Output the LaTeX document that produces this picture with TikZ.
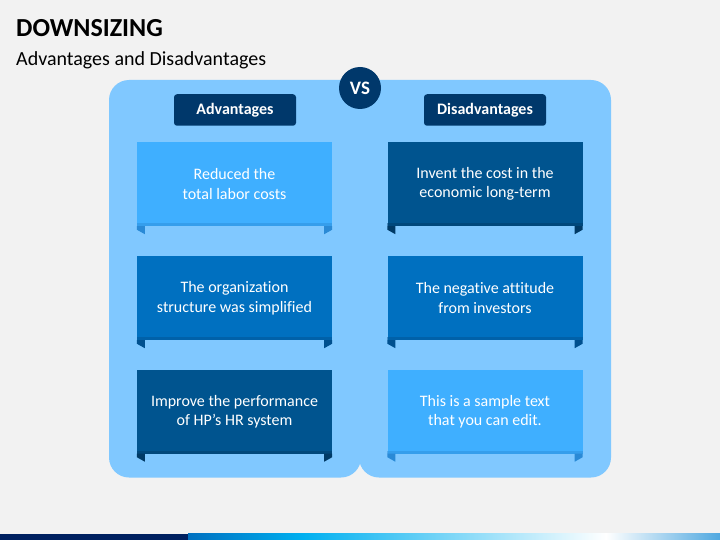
\documentclass[tikz,border=0pt]{standalone}
\usepackage{fontspec}
\setmainfont[Ligatures=NoCommon]{Carlito}
\usetikzlibrary{positioning}
\definecolor{bgc}{HTML}{F2F2F2}
\definecolor{panelc}{HTML}{80C8FF}
\definecolor{navyc}{HTML}{00386B}
\definecolor{lightc}{HTML}{3FAFFF}
\definecolor{lighttail}{HTML}{2A8AD6}
\definecolor{midc}{HTML}{0070C0}
\definecolor{midtail}{HTML}{00508F}
\definecolor{darkc}{HTML}{00548F}
\definecolor{darktail}{HTML}{003A66}
\definecolor{barnavy}{HTML}{002060}
\definecolor{barblue}{HTML}{0070C0}
\definecolor{barcyan}{HTML}{00B0F0}
\definecolor{barend}{HTML}{4FA8E0}
\tikzset{
  panel/.style={fill=panelc, rounded corners=20pt},
  header/.style={fill=navyc, rounded corners=3pt, text=white, font=\fontsize{16}{19}\selectfont\bfseries, minimum width=122pt, minimum height=31.5pt, inner sep=0pt},
  card/.style={text=white, font=\fontsize{16}{19.5}\selectfont, minimum width=195pt, minimum height=84pt, inner sep=0pt, align=center},
}
\newcommand{\cardtails}[2]{%
  \fill[#2] (#1.south west) -- ++(0,3.5) -- ++(8,4.5) -- ++(0,-8) -- cycle;
  \fill[#2] (#1.south east) -- ++(0,3.5) -- ++(-8,4.5) -- ++(0,-8) -- cycle;
  \fill[#2, opacity=0.45] ([yshift=3pt]#1.south west) rectangle (#1.south east);
}
\begin{document}
\begin{tikzpicture}[x=1pt,y=-1pt]
\useasboundingbox (0,0) rectangle (720,540);
\fill[bgc] (0,0) rectangle (720,540);
% title
\node[anchor=base west, inner sep=0pt, font=\fontsize{26}{30}\selectfont\bfseries] (title) at (16,36.5) {DOWNSIZING};
\node[anchor=base west, inner sep=0pt, font=\fontsize{20}{24}\selectfont] (subtitle) at (16,65.5) {Advantages and Disadvantages};
% panels
\fill[panel] (109,80) rectangle (361,477.5);
\fill[panel] (359,80) rectangle (611,477.5);
% VS
\node[circle, fill=navyc, minimum size=42pt, inner sep=0pt, text=white, font=\fontsize{19}{22}\selectfont\bfseries] (vs) at (360,88) {VS};
% headers
\node[header] (adv) at (235,110) {Advantages};
\node[header] (dis) at (485,110) {Disadvantages};
% cards left
\node[card, fill=lightc] (a1) at (234.5,184) {Reduced the\\total labor costs};
\node[card, fill=midc] (a2) at (234.5,298) {The organization\\structure was simplified};
\node[card, fill=darkc] (a3) at (234.5,411.5) {Improve the performance\\of HP’s HR system};
% cards right
\node[card, fill=darkc] (d1) at (485,184) {Invent the cost in the\\economic long-term};
\node[card, fill=midc] (d2) at (485,298) {The negative attitude\\from investors};
\node[card, fill=lightc] (d3) at (485,411.5) {This is a sample text\\that you can edit.};
\cardtails{a1}{lighttail}
\cardtails{a2}{midtail}
\cardtails{a3}{darktail}
\cardtails{d1}{darktail}
\cardtails{d2}{midtail}
\cardtails{d3}{lighttail}
% bottom bar
\fill[barnavy] (0,533.5) rectangle (188,540);
\shade[left color=barblue, right color=barcyan] (188,533.5) rectangle (303,540);
\shade[left color=barcyan, right color=white] (303,533.5) rectangle (606,540);
\shade[left color=white, right color=barend] (606,533.5) rectangle (720,540);
\end{tikzpicture}
\end{document}
